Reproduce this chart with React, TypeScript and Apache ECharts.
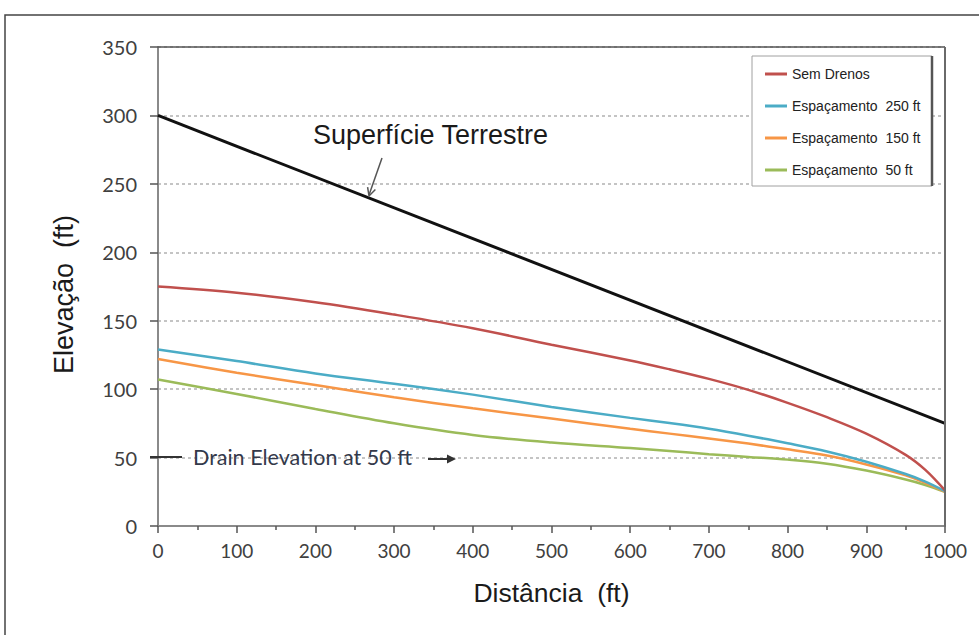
import React, { useEffect, useRef } from "react";
import * as echarts from "echarts";

const distances = [0, 100, 200, 300, 400, 500, 600, 650, 700, 750, 800, 850, 900, 950, 975, 1000];
const semDrenos = [175, 170.5, 163.5, 154.5, 144.5, 132.5, 121, 114.5, 107.5, 99.5, 90, 79.5, 67.5, 52, 41, 26];
const esp250 = [129, 120.5, 111.5, 104, 96, 87, 79, 75.2, 71, 66, 60.5, 54.5, 47, 38, 32.5, 25.5];
const esp150 = [122, 112, 103, 94, 86, 78.5, 71, 67.5, 64, 60.2, 56, 51.5, 45, 37, 31.5, 25];
const esp50 = [107, 96.5, 85.5, 75, 66.5, 61, 57, 54.8, 52.5, 50.5, 48.5, 45.5, 40.5, 34, 30, 25];
const terrainDist = [0, 1000];
const terrain = [300, 75];

const seriesNames = ["Sem Drenos", "Espaçamento  250 ft", "Espaçamento  150 ft", "Espaçamento  50 ft"];
const seriesColors = ["#c0504d", "#4bacc6", "#f79646", "#9bbb59"];

const pairs = (xs: number[], ys: number[]) => xs.map((x, i) => [x, ys[i]]);

export default function App() {
  const ref = useRef<HTMLDivElement>(null);
  useEffect(() => {
    if (!ref.current) return;
    const chart = echarts.init(ref.current, null, { renderer: "svg" });
    const dataSets = [semDrenos, esp250, esp150, esp50];
    const labelFont = "Lato, 'Open Sans', sans-serif";
    const arial = "'Liberation Sans', Arial, sans-serif";
    chart.setOption({
      animation: false,
      backgroundColor: "#ffffff",
      grid: { left: 158, top: 47, right: 34, bottom: 109, containLabel: false },
      xAxis: {
        type: "value",
        min: 0,
        max: 1000,
        interval: 100,
        name: "Distância  (ft)",
        nameLocation: "middle",
        nameGap: 53,
        nameTextStyle: { fontSize: 26.5, color: "#1a1a1a", fontFamily: arial },
        axisLine: { show: true, lineStyle: { color: "#8a8a8a", width: 2 } },
        axisTick: { show: true, length: 7, lineStyle: { color: "#555", width: 1.5 } },
        minorTick: { show: true, splitNumber: 2, length: 4, lineStyle: { color: "#555", width: 1.5 } },
        axisLabel: { fontSize: 19, color: "#404040", margin: 15, fontFamily: labelFont, formatter: (v: number) => String(v) },
        splitLine: { show: false },
      },
      yAxis: {
        type: "value",
        min: 0,
        max: 350,
        interval: 50,
        name: "Elevação  (ft)",
        nameLocation: "middle",
        nameGap: 81,
        nameRotate: 90,
        nameTextStyle: { fontSize: 27, color: "#1a1a1a", fontFamily: arial, padding: [0, 16, 0, 0] },
        axisLine: { show: true, lineStyle: { color: "#8a8a8a", width: 2 } },
        axisTick: { show: true, length: 8, lineStyle: { color: "#555", width: 1.5 } },
        axisLabel: { fontSize: 20, color: "#404040", margin: 21, fontFamily: labelFont },
        splitLine: { show: true, lineStyle: { color: "#c4c4c4", type: [3, 3], width: 2 } },
      },
      legend: {
        show: true,
        orient: "vertical",
        left: 760,
        top: 61,
        data: seriesNames,
        icon: "rect",
        itemWidth: 22,
        itemHeight: 3,
        itemGap: 16,
        textStyle: { fontSize: 14, color: "#222", fontFamily: arial, lineHeight: 16 },
        z: 10,
      },
      series: [
        {
          name: "Superfície Terrestre",
          type: "line",
          data: pairs(terrainDist, terrain),
          symbol: "none",
          lineStyle: { color: "#111", width: 3 },
          itemStyle: { color: "#111" },
          z: 5,
        },
        ...dataSets.map((d, i) => ({
          name: seriesNames[i],
          type: "line",
          data: pairs(distances, d),
          symbol: "none",
          smooth: 0.35,
          lineStyle: { color: seriesColors[i], width: 2.5 },
          itemStyle: { color: seriesColors[i] },
          z: 4 - i,
        })),
      ],
      graphic: [
        { type: "rect", z: -10, shape: { x: 5, y: 15, width: 1000, height: 700 }, style: { fill: "none", stroke: "#444", lineWidth: 1.5 } },
        { type: "line", z: 20, shape: { x1: 158, y1: 47, x2: 945, y2: 47 }, style: { stroke: "#555", lineWidth: 1.5 } },
        { type: "line", z: 20, shape: { x1: 945, y1: 47, x2: 945, y2: 527 }, style: { stroke: "#6a6a6a", lineWidth: 2 } },
        { type: "rect", z: 8, shape: { x: 752, y: 56, width: 180, height: 130 }, style: { fill: "#fff", stroke: "#a0a0a0", lineWidth: 1 } },
        { type: "line", z: 9, shape: { x1: 932, y1: 56, x2: 932, y2: 186 }, style: { stroke: "#555", lineWidth: 2.5 } },
        {
          type: "text", z: 20, x: 313, y: 135,
          style: { text: "Superfície Terrestre", fontSize: 27, fill: "#1a1a1a", fontFamily: arial, verticalAlign: "middle" },
        },
        { type: "line", z: 20, shape: { x1: 382, y1: 158, x2: 369, y2: 195 }, style: { stroke: "#555", lineWidth: 1.5 } },
        { type: "polyline", z: 20, shape: { points: [[375.4, 189.5], [369, 196], [367.6, 187.2]] }, style: { stroke: "#555", lineWidth: 1.5, fill: "none" } },
        { type: "line", z: 20, shape: { x1: 150, y1: 457, x2: 182, y2: 457 }, style: { stroke: "#333", lineWidth: 2 } },
        {
          type: "text", z: 20, x: 193, y: 457,
          style: { text: "Drain Elevation at 50 ft", fontSize: 21.5, fill: "#33394a", fontFamily: labelFont, verticalAlign: "middle" },
        },
        { type: "line", z: 20, shape: { x1: 428, y1: 459, x2: 450, y2: 459 }, style: { stroke: "#333", lineWidth: 2 } },
        { type: "polygon", z: 20, shape: { points: [[447, 454.5], [456, 459], [447, 463.5]] }, style: { fill: "#333" } },
      ],
    });
    return () => chart.dispose();
  }, []);
  return <div ref={ref} style={{ position: "fixed", left: 0, top: 0, width: 979, height: 635 }} />;
}
